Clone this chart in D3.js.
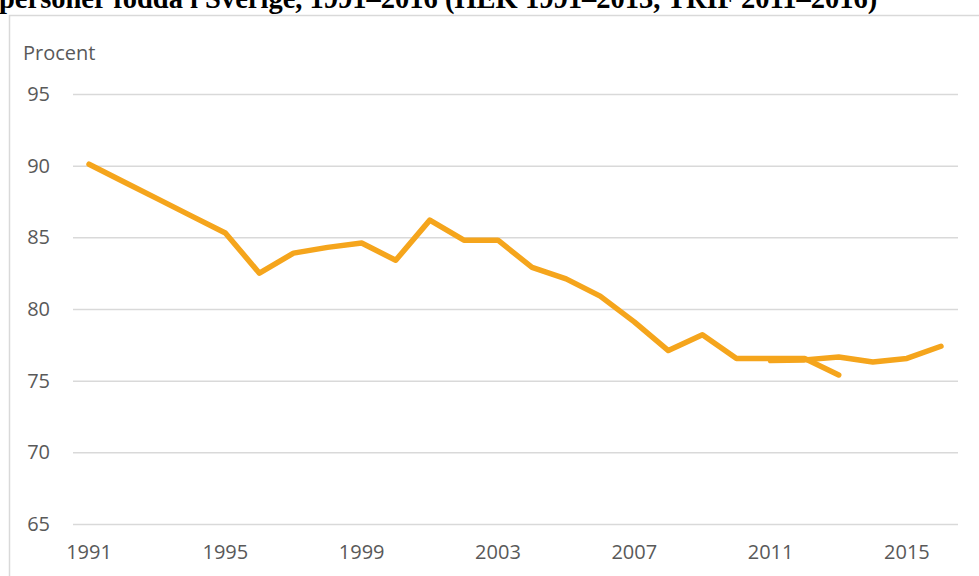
<!DOCTYPE html>
<html>
<head>
<meta charset="utf-8">
<script src="https://cdn.jsdelivr.net/npm/d3@7"></script>
<style>
  body { margin: 0; background: #fff; }
  svg { display: block; }
  .axis text { font-family: "Open Sans", sans-serif; font-size: 20px; fill: #595959; }
</style>
</head>
<body>
<div id="svgContainer"></div>
<script>
// years on the category axis
var years = d3.range(1991, 2017);
var xTickYears = [1991, 1995, 1999, 2003, 2007, 2011, 2015];
var yTicks = [65, 70, 75, 80, 85, 90, 95];

// HEK 1991-2013
var hekYears = d3.range(1991, 2014);
var hekValues = [90.1, 88.9, 87.7, 86.5, 85.3, 82.5, 83.9, 84.3, 84.6, 83.4, 86.2, 84.8,
                 84.8, 82.9, 82.1, 80.9, 79.1, 77.1, 78.2, 76.55, 76.55, 76.55, 75.4];

// TRIF 2011-2016
var trifYears = d3.range(2011, 2017);
var trifValues = [76.4, 76.45, 76.65, 76.3, 76.55, 77.4];

var title = "personer födda i Sverige, 1991–2016 (HEK 1991–2013, TRIF 2011–2016)";

var width = 979, height = 576;
var svg = d3.select("#svgContainer").append("svg")
    .attr("width", width)
    .attr("height", height);

// chart frame (runs off the picture to the right and bottom)
svg.append("rect")
    .attr("x", 9.5)
    .attr("y", 15.5)
    .attr("width", 1000)
    .attr("height", 600)
    .attr("fill", "none")
    .attr("stroke", "#d9d9d9")
    .attr("stroke-width", 1.5);

// title, cut off at the top like the source
svg.append("text")
    .attr("x", -1)
    .attr("y", 8)
    .attr("font-family", "'Liberation Serif', serif")
    .attr("font-weight", "bold")
    .attr("font-size", 28.5)
    .attr("fill", "#000")
    .text(title);

var plotLeft = 72, plotRight = 958, plotTop = 94, plotBottom = 524;

var x = d3.scaleBand()
    .domain(years)
    .range([plotLeft, plotRight]);

var y = d3.scaleLinear()
    .domain([65, 95])
    .range([plotBottom, plotTop]);

function cx(yr) { return x(yr) + x.bandwidth() / 2; }

// y axis with gridlines
var yAxis = svg.append("g")
    .attr("class", "axis")
    .attr("transform", "translate(" + (plotLeft + 1) + ",0)")
    .call(d3.axisLeft(y).tickValues(yTicks).tickSize(-(plotRight - plotLeft - 1)).tickPadding(23));
yAxis.select(".domain").remove();
yAxis.selectAll("line").attr("stroke", "#d9d9d9").attr("stroke-width", 1.5);

// x axis labels
var xAxis = svg.append("g")
    .attr("class", "axis")
    .attr("transform", "translate(0," + plotBottom + ")")
    .call(d3.axisBottom(x).tickValues(xTickYears).tickSize(0).tickPadding(21));
xAxis.select(".domain").remove();

// axis title
svg.append("text")
    .attr("class", "axis")
    .attr("x", 23)
    .attr("y", 60)
    .attr("font-family", "'Open Sans', sans-serif")
    .attr("font-size", 20)
    .attr("fill", "#595959")
    .text("Procent");

var line = d3.line()
    .x(function(d) { return cx(d[0]); })
    .y(function(d) { return y(d[1]); });

var hek = d3.zip(hekYears, hekValues);
var trif = d3.zip(trifYears, trifValues);

[hek, trif].forEach(function(s) {
    svg.append("path")
        .datum(s)
        .attr("fill", "none")
        .attr("stroke", "#f5a51c")
        .attr("stroke-width", 5.5)
        .attr("stroke-linejoin", "round")
        .attr("stroke-linecap", "round")
        .attr("d", line);
});
</script>
</body>
</html>
